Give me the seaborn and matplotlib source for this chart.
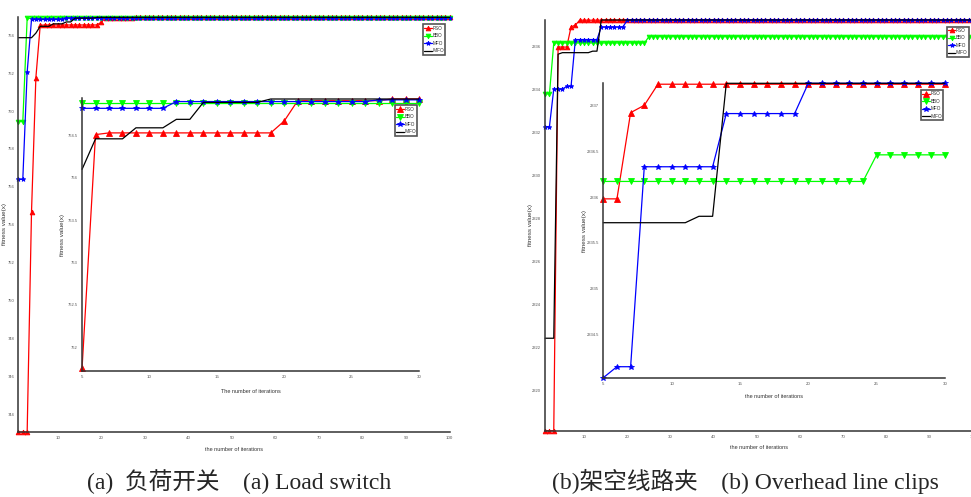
import numpy as np
import pandas as pd
import seaborn as sns
import matplotlib.pyplot as plt

# convergence data (iterations 1..100)
iters = np.arange(1, 101)

# (a) load switch
pso_a = [743.1] * 3 + [754.7, 761.75, 764.51] + [764.53] * 13 + [764.67] + [764.91] * 7 + [764.93] * 73
bbo_a = [759.44] * 2 + [764.88] * 98
mfo_a = [756.4] * 2 + [762.05] + [764.82] * 8 + [764.9] * 15 + [764.92] * 74
imfo_a = [763.86] * 4 + [764.1] + [764.46] * 3 + [764.59] * 3 + [764.69] * 2 + [764.89] * 5 + [764.93] * 82

# (b) overhead line clips
pso_b = [2318.14] * 3 + [2335.98] * 3 + [2336.92, 2337.0] + [2337.23] * 92
bbo_b = [2333.8] * 2 + [2336.17] * 22 + [2336.46] * 76
mfo_b = [2332.28] * 2 + [2334.03] * 3 + [2334.15] * 2 + [2336.33] * 6 + [2336.91] * 6 + [2337.24] * 81
imfo_b = [2322.44] * 3 + [2335.65] + [2335.72] * 7 + [2335.79] * 2 + [2337.24] * 87

algos = ['PSO', 'BBO', 'MFO', 'IMFO']
colors = {'PSO': '#ff0000', 'BBO': '#00ff00', 'MFO': '#0000ff', 'IMFO': '#000000'}
marks = {'PSO': '^', 'BBO': 'v', 'MFO': '*', 'IMFO': None}

main_xticks = [10, 20, 30, 40, 50, 60, 70, 80, 90, 100]
inset_xticks = [5, 10, 15, 20, 25, 30]
yticks_a = [744, 746, 748, 750, 752, 754, 756, 758, 760, 762, 764]
yticks_a_in = [762, 762.5, 763, 763.5, 764, 764.5]
yticks_b = [2320, 2322, 2324, 2326, 2328, 2330, 2332, 2334, 2336]
yticks_b_in = [2334.5, 2335, 2335.5, 2336, 2336.5, 2337]

sns.set_style('white')
small_font = ['Liberation Sans Narrow', 'Liberation Sans', 'DejaVu Sans']
plt.rcParams['font.family'] = small_font

fig = plt.figure(figsize=(9.71, 4.97), dpi=100)


def to_frame(a, b, c, d):
    df = pd.DataFrame({'iter': iters, 'PSO': a, 'BBO': b, 'MFO': c, 'IMFO': d})
    return df


def draw(ax, df, ms, xlim, ylim, xticks, yticks, xlabel, ylab_x, leg_xy):
    for name in algos:
        sns.lineplot(data=df, x='iter', y=name, ax=ax, color=colors[name],
                     marker=marks[name], markersize=ms, markeredgewidth=0.6,
                     markeredgecolor=colors[name], markerfacecolor=colors[name],
                     linewidth=0.9, linestyle='-', label=name, clip_on=False)
    ax.set_xlim(*xlim)
    ax.set_ylim(*ylim)
    ax.set_xticks(xticks)
    ax.set_yticks(yticks)
    ax.set_yticklabels([('%g' % t) for t in yticks])
    for s in ['top', 'right']:
        ax.spines[s].set_visible(False)
    for s in ['left', 'bottom']:
        ax.spines[s].set_color('#333333')
        ax.spines[s].set_linewidth(1.1)
    ax.tick_params(axis='x', direction='in', length=6, width=1, colors='#333333',
                   labelsize=3.2, labelcolor='#555555', pad=3)
    ax.tick_params(axis='y', direction='out', length=2, width=0.8, colors='#333333',
                   labelsize=3.0, labelcolor='#555555', pad=1)
    ax.set_xlabel(xlabel, fontsize=4, color='#333333')
    ax.set_ylabel('fitness value(x)', fontsize=4.5, color='#333333')
    ax.yaxis.set_label_coords(ylab_x, 0.5)
    ax.patch.set_alpha(0)
    leg = ax.legend(loc='upper left', bbox_to_anchor=leg_xy, fontsize=3.3,
                    handlelength=1.6, handletextpad=0.1, labelspacing=0.55,
                    borderpad=0.3, borderaxespad=0, fancybox=False, framealpha=1)
    leg.get_frame().set_edgecolor('#555555')
    leg.get_frame().set_linewidth(1.2)


dfa = to_frame(pso_a, bbo_a, mfo_a, imfo_a)
dfb = to_frame(pso_b, bbo_b, mfo_b, imfo_b)

# (a) main and inset
ax1 = fig.add_axes([0.019, 0.1308, 0.444, 0.835])
draw(ax1, dfa, 3.4, (1, 100), (743.1, 764.95), main_xticks, yticks_a,
     'the number of iterations', -0.027, (0.9386, 0.982))
ax1.xaxis.set_label_coords(0.5, -0.035)

ax1i = fig.add_axes([0.0845, 0.2535, 0.347, 0.549])
draw(ax1i, dfa[(dfa.iter >= 5) & (dfa.iter <= 30)], 4, (5, 30), (761.72, 764.94),
     inset_xticks, yticks_a_in, 'The number of iterations', -0.05, (0.929, 0.974))
ax1i.xaxis.set_label_coords(0.5, -0.065)

# (b) main and inset
ax2 = fig.add_axes([0.5614, 0.1334, 0.4405, 0.8264])
draw(ax2, dfb, 3.4, (1, 100), (2318.14, 2337.24), main_xticks, yticks_b,
     'the number of iterations', -0.029, (0.939, 0.984))
ax2.xaxis.set_label_coords(0.5, -0.035)

ax2i = fig.add_axes([0.6213, 0.24, 0.3519, 0.5924])
draw(ax2i, dfb[(dfb.iter >= 5) & (dfb.iter <= 30)], 4, (5, 30), (2334.03, 2337.24),
     inset_xticks, yticks_b_in, 'the number of iterations', -0.047, (0.93, 0.977))
ax2i.xaxis.set_label_coords(0.5, -0.055)

cap_font = ['Liberation Serif', 'Noto Sans CJK SC']
fig.text(0.246, 0.017, '(a)  负荷开关    (a) Load switch', ha='center', va='baseline',
         fontsize=17, family=cap_font)
fig.text(0.768, 0.017, '(b)架空线路夹    (b) Overhead line clips', ha='center', va='baseline',
         fontsize=17, family=cap_font)

fig.savefig('out.png', dpi=100)
